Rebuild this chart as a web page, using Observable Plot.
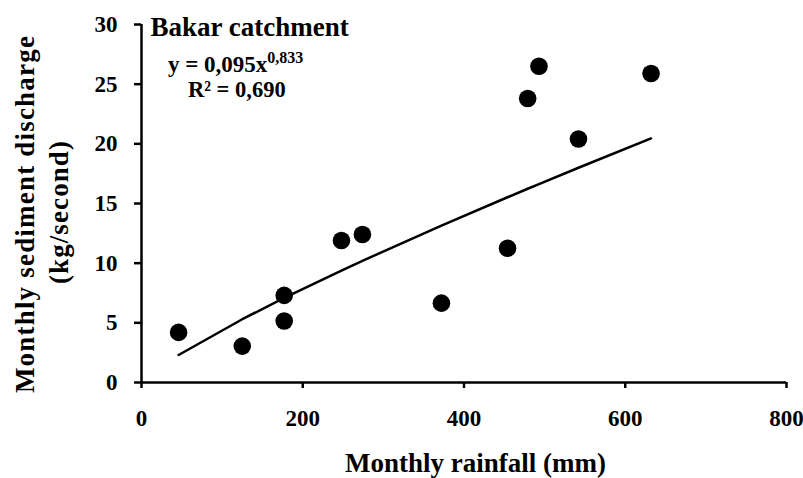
<!DOCTYPE html>
<html><head><meta charset="utf-8">
<script src="https://cdn.jsdelivr.net/npm/d3@7"></script>
<script src="https://cdn.jsdelivr.net/npm/@observablehq/plot@0.6"></script>
<style>html,body{margin:0;padding:0;background:#fff}#chart svg{display:block}</style>
</head><body><div id="chart"></div>
<script>
// Data
const rainfall  = [46, 125, 177, 177, 248, 274, 372, 454, 479, 493, 542, 632];
const discharge = [4.2, 3.05, 5.15, 7.3, 11.9, 12.4, 6.65, 11.25, 23.8, 26.5, 20.4, 25.9];
const xTicks = [0, 200, 400, 600, 800];
const yTicks = [0, 5, 10, 15, 20, 25, 30];
// Power-law fit printed on the chart: y = 0,095 x^0,833
const fitA = 0.095;
const fitB = 0.833;
const titleText = "Bakar catchment";
const eqMain = "y = 0,095x";
const eqExp = "0,833";
const r2Text = "R\u00B2 = 0,690";
const xLabel = "Monthly rainfall (mm)";
const yLabel1 = "Monthly sediment discharge";
const yLabel2 = "(kg/second)";

const points = rainfall.map((x, i) => ({x, y: discharge[i]}));
const fitLine = [...rainfall].sort((a, b) => a - b).map(x => ({x, y: fitA * Math.pow(x, fitB)}));

const font = "'Liberation Serif', 'Times New Roman', serif";

const chart = Plot.plot({
  width: 803, height: 478,
  marginLeft: 141, marginRight: 17, marginTop: 24, marginBottom: 96,
  style: {fontFamily: font, fontWeight: "bold", background: "#fff", color: "#000", overflow: "visible"},
  x: {domain: [0, 800]},
  y: {domain: [0, 30]},
  marks: [
    Plot.axisX({ticks: xTicks, tickSize: 6, tickPadding: 21, fontSize: 23, strokeWidth: 2.5, label: null, tickFormat: d => String(d)}),
    Plot.axisY({ticks: yTicks, tickSize: 7, tickPadding: 17, fontSize: 23, strokeWidth: 2.5, label: null, tickFormat: d => String(d)}),
    Plot.ruleY([0], {stroke: "#000", strokeWidth: 2.5}),
    Plot.ruleX([0], {stroke: "#000", strokeWidth: 2.5}),
    Plot.line(fitLine, {x: "x", y: "y", stroke: "#000", strokeWidth: 2.5}),
    Plot.dot(points, {x: "x", y: "y", r: 8.8, fill: "#000", stroke: "none"}),
    Plot.text([titleText], {frameAnchor: "top-left", dx: 9, dy: 3, lineAnchor: "middle", textAnchor: "start", fontSize: 27, fill: "#000"}),
    Plot.text([xLabel], {frameAnchor: "bottom", dx: 11.5, dy: 81, lineAnchor: "middle", textAnchor: "middle", fontSize: 27, fill: "#000"}),
    Plot.text([yLabel1], {frameAnchor: "left", dx: -116.5, dy: 10.5, rotate: -90, lineAnchor: "middle", textAnchor: "middle", fontSize: 27, fill: "#000"}),
    Plot.text([yLabel2], {frameAnchor: "left", dx: -82.5, dy: 8.5, rotate: -90, lineAnchor: "middle", textAnchor: "middle", fontSize: 27, fill: "#000"})
  ]
});

document.getElementById("chart").appendChild(chart);
const svg = d3.select(chart);

// spread the rotated y label lines to the reference's lengths
const targets = new Map([[yLabel1, 357], [yLabel2, 143]]);
svg.selectAll("text").each(function() {
  const txt = this.textContent;
  if (!targets.has(txt) || this.querySelector("tspan")) return;
  const natural = this.getComputedTextLength();
  const ls = (targets.get(txt) - natural) / Math.max(1, txt.length - 1);
  d3.select(this).style("letter-spacing", ls + "px");
});

// regression equation with superscript exponent
const eq = svg.append("text")
  .attr("x", 168).attr("y", 72).attr("text-anchor", "start")
  .attr("font-family", font).attr("font-weight", "bold").attr("font-size", 23).attr("fill", "#000");
eq.append("tspan").text(eqMain);
eq.append("tspan").attr("font-size", 16).attr("dy", -9).text(eqExp);
svg.append("text")
  .attr("x", 188).attr("y", 97).attr("text-anchor", "start")
  .attr("font-family", font).attr("font-weight", "bold").attr("font-size", 22.5).attr("fill", "#000")
  .text(r2Text);
</script>
</body></html>
